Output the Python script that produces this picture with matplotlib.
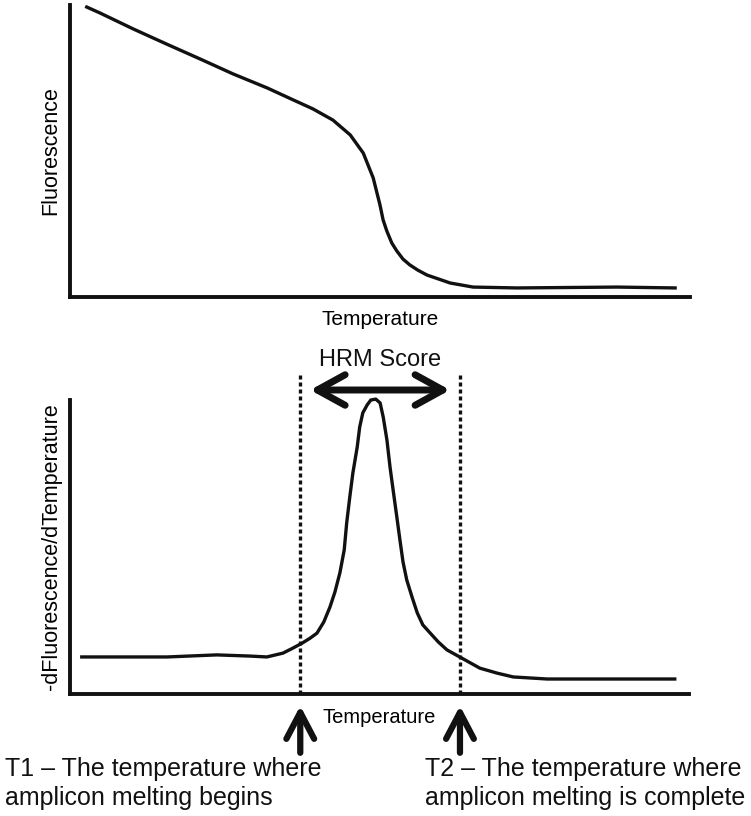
import matplotlib.pyplot as plt

plt.rcParams["font.family"] = ["Liberation Sans", "DejaVu Sans"]

ink = "#111111"

# melting curve (temperature and fluorescence in arbitrary 0-100 units)
melt_temp = [2.7, 4.8, 10.2, 15.6, 21.0, 26.3, 31.8, 36.0, 39.2, 42.4, 45.2, 47.3,
             48.9, 50.0, 50.5, 51.1, 51.9, 52.7, 53.7, 54.8, 56.1, 57.6, 59.4, 61.3,
             65.0, 72.1, 88.2, 97.6]
melt_fluor = [99.3, 97.3, 91.8, 86.6, 81.5, 76.4, 71.6, 67.5, 64.4, 60.6, 55.5, 49.3,
              40.8, 31.5, 26.4, 22.6, 18.5, 15.8, 13.0, 11.0, 9.2, 7.5, 6.2, 4.8,
              3.4, 3.1, 3.4, 3.1]

# derivative curve
deriv_temp = [1.9, 8.1, 15.7, 23.7, 29.1, 31.8, 34.4, 36.0, 37.5, 38.8, 39.9, 41.0,
              42.0, 42.8, 43.6, 44.3, 44.7, 45.2, 45.7, 46.4, 46.8, 47.3, 48.0, 48.6,
              49.4, 50.1, 50.6, 51.2, 51.7, 52.2, 52.8, 53.3, 53.8, 54.4, 55.3, 56.1,
              57.0, 58.2, 59.5, 60.9, 63.3, 66.2, 69.0, 71.6, 77.1, 87.7, 97.7]
deriv_val = [12.6, 12.6, 12.6, 13.3, 12.9, 12.6, 13.9, 15.6, 17.3, 19.0, 20.7, 24.5,
             29.6, 34.7, 41.2, 49.0, 58.2, 67.0, 75.2, 84.0, 90.8, 95.6, 98.3, 100.0,
             100.3, 99.0, 94.2, 86.4, 77.2, 69.4, 60.2, 52.4, 44.9, 38.8, 32.7, 27.6,
             23.5, 20.7, 17.7, 15.0, 12.2, 8.8, 7.1, 5.8, 5.1, 5.1, 5.1]

t1 = 37.2
t2 = 63.0

fig = plt.figure(figsize=(7.51, 8.16), dpi=100)
W, H = 751, 816

ax1 = fig.add_axes([70 / W, 1 - 297 / H, 620 / W, 292 / H])
ax2 = fig.add_axes([70 / W, 1 - 694 / H, 619 / W, 294 / H])

for ax in (ax1, ax2):
    ax.set_xlim(0, 100)
    ax.set_ylim(0, 100)
    ax.spines["top"].set_visible(False)
    ax.spines["right"].set_visible(False)
    for s in ("left", "bottom"):
        ax.spines[s].set_linewidth(2.8)
        ax.spines[s].set_color(ink)
        ax.spines[s].set_capstyle("projecting")
    ax.set_xticks([])
    ax.set_yticks([])

ax1.plot(melt_temp, melt_fluor, color=ink, lw=2.4, solid_joinstyle="round",
         clip_on=False)
ax1.set_xlabel("Temperature", fontsize=15, labelpad=9.5)
ax1.set_ylabel("Fluorescence", fontsize=15.5, labelpad=6)

ax2.plot(deriv_temp, deriv_val, color=ink, lw=2.4, solid_joinstyle="round",
         clip_on=False)
ax2.set_ylabel("-dFluorescence/dTemperature", fontsize=15.5, labelpad=6)
ax2.set_xlabel("Temperature", fontsize=14.5, labelpad=10)

# T1 / T2 dotted markers
for t in (t1, t2):
    ax2.plot([t, t], [0, 109.2], color=ink, lw=2.4, linestyle=(0, (1.2, 0.9)),
             clip_on=False)

# HRM score double arrow
ax2.annotate("", xy=(t1 + 1.6, 103.4), xytext=(t2 - 1.6, 103.4),
             arrowprops=dict(arrowstyle="<->,head_length=2.0,head_width=1.1",
                             color=ink, lw=5, capstyle="round", joinstyle="round",
                             shrinkA=0, shrinkB=0),
             annotation_clip=False)
ax2.text((t1 + t2) / 2, 113.6, "HRM Score", fontsize=17, ha="center", va="center",
         color=ink)

# up arrows under T1 / T2
for t in (t1, t2):
    ax2.annotate("", xy=(t, -0.04), xytext=(t, -0.2),
                 xycoords=("data", "axes fraction"), textcoords=("data", "axes fraction"),
                 arrowprops=dict(arrowstyle="->,head_length=1.9,head_width=1.0",
                                 color=ink, lw=4.5, capstyle="round", joinstyle="round",
                                 shrinkA=0, shrinkB=0),
                 annotation_clip=False)

fig.text(5 / W, 1 - 757 / H, "T1 – The temperature where\namplicon melting begins",
         fontsize=18, ha="left", va="top", linespacing=1.24, color=ink)
fig.text(425 / W, 1 - 757 / H, "T2 – The temperature where\namplicon melting is complete",
         fontsize=18, ha="left", va="top", linespacing=1.24, color=ink)

fig.savefig("out.png", dpi=100, facecolor="white")
